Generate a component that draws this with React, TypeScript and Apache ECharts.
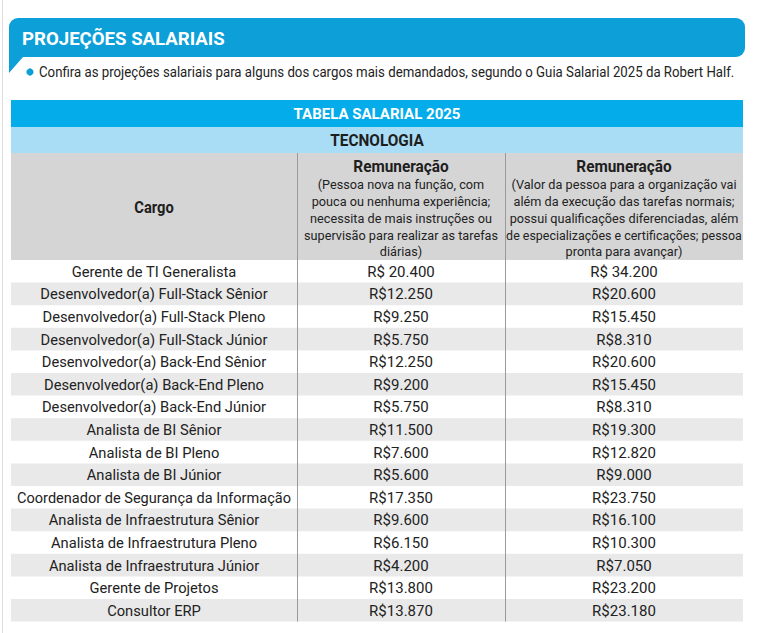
import React, { useEffect, useRef } from "react";
import * as echarts from "echarts";

const title = "PROJEÇÕES SALARIAIS";
const subtitle =
  "Confira as projeções salariais para alguns dos cargos mais demandados, segundo o Guia Salarial 2025 da Robert Half.";
const tableTitle = "TABELA SALARIAL 2025";
const sectionTitle = "TECNOLOGIA";
const headerCargo = "Cargo";
const headerRem = "Remuneração";
const headerCol1 = [
  "(Pessoa nova na função, com",
  "pouca ou nenhuma experiência;",
  "necessita de mais instruções ou",
  "supervisão para realizar as tarefas",
  "diárias)",
];
const headerCol2 = [
  "(Valor da pessoa para a organização vai",
  "além da execução das tarefas normais;",
  "possui qualificações diferenciadas, além",
  "de especializações e certificações; pessoa",
  "pronta para avançar)",
];

const cargos = [
  "Gerente de TI Generalista",
  "Desenvolvedor(a) Full-Stack Sênior",
  "Desenvolvedor(a) Full-Stack Pleno",
  "Desenvolvedor(a) Full-Stack Júnior",
  "Desenvolvedor(a) Back-End Sênior",
  "Desenvolvedor(a) Back-End Pleno",
  "Desenvolvedor(a) Back-End Júnior",
  "Analista de BI Sênior",
  "Analista de BI Pleno",
  "Analista de BI Júnior",
  "Coordenador de Segurança da Informação",
  "Analista de Infraestrutura Sênior",
  "Analista de Infraestrutura Pleno",
  "Analista de Infraestrutura Júnior",
  "Gerente de Projetos",
  "Consultor ERP",
];
const salarioInicial = [
  20400, 12250, 9250, 5750, 12250, 9200, 5750, 11500, 7600, 5600, 17350, 9600,
  6150, 4200, 13800, 13870,
];
const salarioExperiente = [
  34200, 20600, 15450, 8310, 20600, 15450, 8310, 19300, 12820, 9000, 23750,
  16100, 10300, 7050, 23200, 23180,
];

const FONT = "Roboto, 'Noto Sans', sans-serif";

function fmt(v: number, i: number) {
  const s = String(v).replace(/\B(?=(\d{3})+(?!\d))/g, ".");
  return (i === 0 ? "R$ " : "R$") + s;
}

let ctx: CanvasRenderingContext2D | null = null;
function measure(text: string, font: string) {
  if (!ctx) ctx = document.createElement("canvas").getContext("2d");
  if (!ctx) return text.length * 7;
  ctx.font = font;
  return ctx.measureText(text).width;
}

export default function App() {
  const ref = useRef<HTMLDivElement>(null);
  useEffect(() => {
    if (!ref.current) return;
    const chart = echarts.init(ref.current, null, { renderer: "svg" });

    const L = 11;
    const R = 743;
    const d1 = 297;
    const d2 = 505;
    const rowTop = 260;
    const rowH = 22.6;
    const txt = "#222222";
    const els: any[] = [];

    // text helper: condensed look via horizontal scale around the anchor
    const T = (
      text: string,
      x: number,
      y: number,
      font: string,
      fill: string,
      align: string,
      sx: number,
      maxW?: number
    ) => {
      let s = sx;
      if (maxW) {
        const w = measure(text, font) * sx;
        if (w > maxW) s = (sx * maxW) / w;
      }
      els.push({
        type: "text",
        x,
        y,
        scaleX: s,
        style: { text, x: 0, y: 0, font, fill, align, verticalAlign: "middle" },
      });
    };

    // page border
    els.push({ type: "line", shape: { x1: 2.5, y1: 0, x2: 2.5, y2: 633 }, style: { stroke: "#dcdcdc", lineWidth: 1 } });
    // title bar
    els.push({ type: "rect", shape: { x: 9, y: 18, width: 736, height: 39, r: [9, 9, 9, 0] }, style: { fill: "#0c9fd8" } });
    els.push({ type: "polygon", shape: { points: [[9, 50], [9, 73], [23, 57], [20, 50]] }, style: { fill: "#0c9fd8" } });
    T(title, 22, 38.5, `bold 19px ${FONT}`, "#ffffff", "left", 0.98);
    // subtitle
    els.push({ type: "circle", shape: { cx: 30, cy: 72, r: 3.6 }, style: { fill: "#0c9fd8" } });
    T(subtitle, 39, 72, `14px ${FONT}`, txt, "left", 1, 696);

    // table bands
    els.push({ type: "rect", shape: { x: L, y: 100, width: R - L, height: 27 }, style: { fill: "#05acea" } });
    T(tableTitle, (L + R) / 2, 114, `bold 15.5px ${FONT}`, "#ffffff", "center", 0.97);
    els.push({ type: "rect", shape: { x: L, y: 127, width: R - L, height: 26 }, style: { fill: "#a9dcf5" } });
    T(sectionTitle, (L + R) / 2, 140, `bold 16px ${FONT}`, "#1e1e1e", "center", 0.96);
    els.push({ type: "rect", shape: { x: L, y: 153, width: R - L, height: rowTop - 153 }, style: { fill: "#d5d5d5" } });

    T(headerCargo, (L + d1) / 2, 208, `bold 16px ${FONT}`, "#1e1e1e", "center", 0.92);
    const hc = [
      { cx: (d1 + d2) / 2, lines: headerCol1, w: 204 },
      { cx: (d2 + R) / 2, lines: headerCol2, w: 236 },
    ];
    hc.forEach((h) => {
      T(headerRem, h.cx, 166, `bold 16px ${FONT}`, "#1e1e1e", "center", 0.96);
      h.lines.forEach((ln, k) => {
        T(ln, h.cx, 184.5 + k * 16.8, `13.5px ${FONT}`, txt, "center", 0.94, h.w);
      });
    });

    // rows
    cargos.forEach((c, i) => {
      const y0 = rowTop + i * rowH;
      if (i % 2 === 1) {
        els.push({ type: "rect", shape: { x: L, y: y0, width: R - L, height: rowH }, style: { fill: "#e9e9e9" } });
      }
      const cy = y0 + rowH / 2 + 0.5;
      T(c, (L + d1) / 2, cy, `15px ${FONT}`, txt, "center", 0.98, 274);
      T(fmt(salarioInicial[i], i), (d1 + d2) / 2, cy, `15px ${FONT}`, txt, "center", 1.0);
      T(fmt(salarioExperiente[i], i), (d2 + R) / 2, cy, `15px ${FONT}`, txt, "center", 1.0);
    });

    const bottom = rowTop + cargos.length * rowH;
    [d1, d2].forEach((x) => {
      els.push({ type: "line", shape: { x1: x + 0.5, y1: 153, x2: x + 0.5, y2: bottom }, style: { stroke: "#9a9a9a", lineWidth: 1 } });
    });

    chart.setOption({ animation: false, graphic: { elements: els } });
    return () => chart.dispose();
  }, []);

  return (
    <div
      ref={ref}
      style={{ position: "fixed", left: 0, top: 0, width: 766, height: 633, background: "#ffffff" }}
    />
  );
}
